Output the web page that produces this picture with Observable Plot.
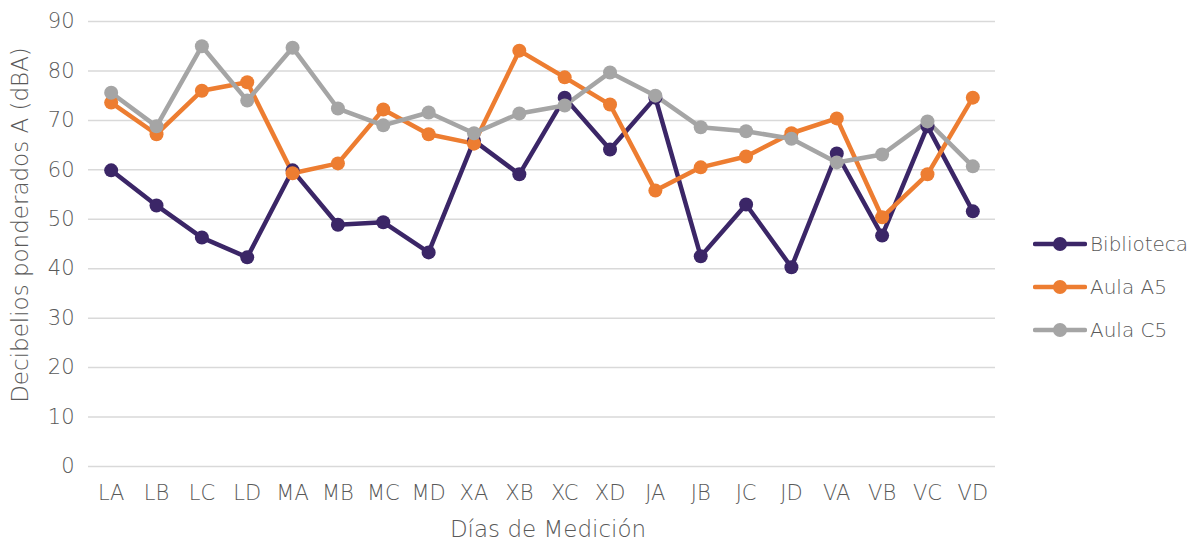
<!DOCTYPE html>
<html>
<head>
<meta charset="utf-8">
<script src="https://cdn.jsdelivr.net/npm/d3@7"></script>
<script src="https://cdn.jsdelivr.net/npm/@observablehq/plot@0.6"></script>
<style>
  html, body { margin: 0; padding: 0; background: #fff; overflow: hidden; }
  #wrap { position: relative; width: 1188px; height: 543px; overflow: hidden; font-family: "DejaVu Sans", sans-serif; font-weight: 200; }
  #legend { position: absolute; left: 1033px; top: 222px; color: #595959; font-size: 20px; }
  .item { display: flex; align-items: center; height: 43px; white-space: nowrap; }
  .item svg { margin-right: 3px; }
  #ytitle { position: absolute; left: 20px; top: 225px; line-height: 1; transform: translate(-50%, -50%) rotate(-90deg); white-space: nowrap; color: #595959; font-size: 23px; }
  #xtitle { position: absolute; left: 548px; top: 529px; line-height: 1; transform: translate(-50%, -50%); white-space: nowrap; color: #595959; font-size: 23px; }
</style>
</head>
<body>
<div id="wrap"><div id="legend"></div><div id="ytitle">Decibelios ponderados A (dBA)</div><div id="xtitle">Días de Medición</div></div>
<script>
const days = ["LA","LB","LC","LD","MA","MB","MC","MD","XA","XB","XC","XD","JA","JB","JC","JD","VA","VB","VC","VD"];
const seriesNames = ["Biblioteca", "Aula A5", "Aula C5"];
const biblioteca = [59.9,52.8,46.3,42.3,59.9,48.9,49.4,43.3,65.9,59.1,74.6,64.1,74.6,42.5,53.0,40.3,63.3,46.7,68.8,51.6];
const aulaA5 = [73.6,67.2,76.0,77.7,59.3,61.3,72.2,67.2,65.3,84.1,78.7,73.2,55.8,60.5,62.7,67.4,70.4,50.4,59.1,74.6];
const aulaC5 = [75.6,68.8,85.0,74.0,84.7,72.4,69.0,71.6,67.4,71.4,73.0,79.7,75.0,68.6,67.8,66.3,61.5,63.1,69.8,60.7];
const yTicks = [0,10,20,30,40,50,60,70,80,90];
const colors = ["#3B2667", "#ED7D31", "#A5A5A5"];

const allValues = [biblioteca, aulaA5, aulaC5];
const data = [];
seriesNames.forEach((s, i) => days.forEach((d, j) => data.push({serie: s, day: d, value: allValues[i][j]})));

const chart = Plot.plot({
  width: 1188,
  height: 543,
  marginLeft: 88,
  marginRight: 193,
  marginTop: 21,
  marginBottom: 77,
  style: {fontFamily: "'DejaVu Sans', sans-serif", fontWeight: 200, fontSize: "20px", color: "#595959", background: "#fff"},
  x: {type: "point", domain: days, padding: 0.5, round: false, label: null},
  y: {domain: [0, 90], ticks: yTicks, label: null},
  color: {domain: seriesNames, range: colors},
  marks: [
    Plot.gridY(yTicks, {stroke: "#d9d9d9", strokeOpacity: 1, strokeWidth: 1.5}),
    Plot.axisY(yTicks, {tickSize: 0, tickPadding: 14, label: null, fill: "#595959", fontSize: 21}),
    Plot.axisX({tickSize: 0, tickPadding: 19, label: null, fill: "#595959", fontSize: 21}),
    Plot.line(data, {x: "day", y: "value", z: "serie", stroke: "serie", strokeWidth: 4.5, strokeLinejoin: "round"}),
    Plot.dot(data, {x: "day", y: "value", fill: "serie", r: 7})
  ]
});
document.getElementById("wrap").prepend(chart);

const legend = document.getElementById("legend");
seriesNames.forEach((s, i) => {
  const div = document.createElement("div");
  div.className = "item";
  div.innerHTML = `<svg width="54" height="16"><line x1="2" x2="52" y1="8" y2="8" stroke="${colors[i]}" stroke-width="4.5" stroke-linecap="round"/><circle cx="27" cy="8" r="7" fill="${colors[i]}"/></svg><span>${s}</span>`;
  legend.appendChild(div);
});
</script>
</body>
</html>
